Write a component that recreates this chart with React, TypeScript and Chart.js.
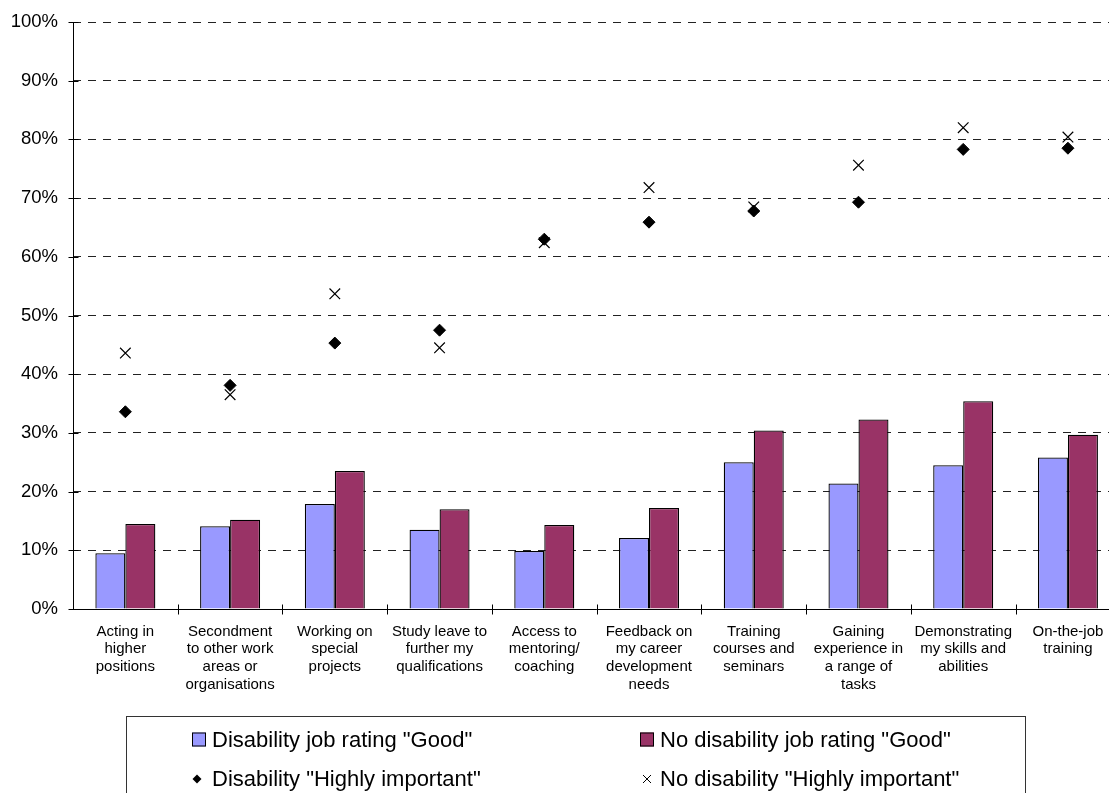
import { useEffect, useRef } from "react";
import { Chart, registerables } from "chart.js";

Chart.register(...registerables);

// Categories shown along the x axis (each entry is one multi-line label)
const categories: string[][] = [
  ["Acting in", "higher", "positions"],
  ["Secondment", "to other work", "areas or", "organisations"],
  ["Working on", "special", "projects"],
  ["Study leave to", "further my", "qualifications"],
  ["Access to", "mentoring/", "coaching"],
  ["Feedback on", "my career", "development", "needs"],
  ["Training", "courses and", "seminars"],
  ["Gaining", "experience in", "a range of", "tasks"],
  ["Demonstrating", "my skills and", "abilities"],
  ["On-the-job", "training"],
];

// Percentages of staff rating their job "Good" on each item
const disabilityGood = [9.5, 14.1, 17.9, 13.5, 9.9, 12.1, 25.0, 21.4, 24.5, 25.8];
const noDisabilityGood = [14.5, 15.2, 23.5, 17.0, 14.3, 17.2, 30.4, 32.3, 35.4, 29.7];

// Percentages rating each item "Highly important"
const disabilityImportant = [33.6, 38.1, 45.3, 47.5, 63.0, 65.9, 67.8, 69.3, 78.3, 78.5];
const noDisabilityImportant = [43.6, 36.5, 53.7, 44.5, 62.4, 71.8, 68.5, 75.6, 82.0, 80.4];

const seriesLabels = [
  'Disability job rating "Good"',
  'No disability job rating "Good"',
  'Disability "Highly important"',
  'No disability "Highly important"',
];

const FONT = '"Liberation Sans", Arial, sans-serif';
const BLUE = "#9999FF";
const PLUM = "#993366";
const CLEAR = "rgba(0,0,0,0)";

// Solid axis lines with tick marks that cross the axes
const axisPlugin = {
  id: "crossAxes",
  afterDatasetsDraw(chart: any) {
    const { ctx, chartArea } = chart;
    const x = chart.scales.x;
    const y = chart.scales.y;
    const left = Math.round(chartArea.left) + 0.5;
    const bottom = Math.round(chartArea.bottom) + 0.5;
    ctx.save();
    ctx.strokeStyle = "#000";
    ctx.lineWidth = 1;
    ctx.beginPath();
    ctx.moveTo(left, Math.round(chartArea.top));
    ctx.lineTo(left, bottom);
    ctx.lineTo(chartArea.right, bottom);
    for (const t of y.ticks) {
      const py = Math.round(y.getPixelForValue(t.value)) + 0.5;
      ctx.moveTo(left - 5, py);
      ctx.lineTo(left + 5, py);
    }
    const step = (x.right - x.left) / categories.length;
    for (let i = 1; i <= categories.length; i++) {
      const px = Math.round(x.left + i * step) + 0.5;
      ctx.moveTo(px, bottom - 5);
      ctx.lineTo(px, bottom + 5);
    }
    ctx.stroke();
    ctx.restore();
  },
};

// Boxed two-column legend below the axis labels
const legendPlugin = {
  id: "boxLegend",
  afterDraw(chart: any) {
    const { ctx } = chart;
    const ds = chart.data.datasets;
    ctx.save();
    ctx.strokeStyle = "#333";
    ctx.lineWidth = 1;
    ctx.strokeRect(126.5, 716.5, 899, 120);

    const cols = [192, 640];
    const rows = [746.5, 786];
    ctx.font = `22px ${FONT}`;
    ctx.fillStyle = "#000";
    ctx.textBaseline = "alphabetic";
    ctx.textAlign = "left";

    ds.forEach((d: any, i: number) => {
      const cx = cols[i % 2];
      const base = rows[Math.floor(i / 2)];
      const midY = base - 7;
      if (d.type === "bar") {
        ctx.fillStyle = d.backgroundColor;
        ctx.fillRect(cx, base - 14, 14, 14);
        ctx.strokeStyle = "#000";
        ctx.strokeRect(cx + 0.5, base - 13.5, 13, 13);
      } else if (d.pointStyle === "rectRot") {
        ctx.fillStyle = "#000";
        ctx.beginPath();
        ctx.moveTo(cx + 5, midY - 4.5);
        ctx.lineTo(cx + 9.5, midY);
        ctx.lineTo(cx + 5, midY + 4.5);
        ctx.lineTo(cx + 0.5, midY);
        ctx.closePath();
        ctx.fill();
      } else {
        ctx.strokeStyle = "#000";
        ctx.lineWidth = 1;
        ctx.beginPath();
        ctx.moveTo(cx + 3, midY - 4);
        ctx.lineTo(cx + 11, midY + 4);
        ctx.moveTo(cx + 11, midY - 4);
        ctx.lineTo(cx + 3, midY + 4);
        ctx.stroke();
      }
      ctx.fillStyle = "#000";
      ctx.fillText(d.label, cx + 20, base);
    });
    ctx.restore();
  },
};

export default function App() {
  const canvasRef = useRef<HTMLCanvasElement | null>(null);

  useEffect(() => {
    const canvas = canvasRef.current;
    if (!canvas) return;
    const chart = new Chart(canvas, {
      type: "bar",
      data: {
        labels: categories,
        datasets: [
          {
            type: "bar",
            label: seriesLabels[0],
            data: disabilityGood,
            backgroundColor: BLUE,
            borderColor: "#000",
            borderWidth: 1.3,
            barPercentage: 1,
            categoryPercentage: 0.573,
            order: 2,
          },
          {
            type: "bar",
            label: seriesLabels[1],
            data: noDisabilityGood,
            backgroundColor: PLUM,
            borderColor: "#000",
            borderWidth: 1.3,
            barPercentage: 1,
            categoryPercentage: 0.573,
            order: 2,
          },
          {
            type: "line",
            label: seriesLabels[2],
            data: disabilityImportant,
            showLine: false,
            pointStyle: "rectRot",
            pointRadius: 6,
            pointBackgroundColor: "#000",
            pointBorderColor: "#000",
            pointBorderWidth: 1,
            order: 1,
          },
          {
            type: "line",
            label: seriesLabels[3],
            data: noDisabilityImportant,
            showLine: false,
            pointStyle: "crossRot",
            pointRadius: 7.5,
            pointBackgroundColor: "#000",
            pointBorderColor: "#000",
            pointBorderWidth: 1.2,
            order: 0,
          },
        ] as any,
      },
      options: {
        animation: false,
        responsive: false,
        events: [],
        layout: { padding: { top: 22, right: 2, left: 0, bottom: 0 } },
        plugins: {
          legend: { display: false },
          tooltip: { enabled: false },
          title: { display: false },
        },
        scales: {
          x: {
            offset: true,
            grid: {
              display: true,
              drawOnChartArea: false,
              drawTicks: true,
              tickLength: 14,
              tickColor: CLEAR,
              color: CLEAR,
            },
            border: { display: false },
            ticks: {
              color: "#000",
              padding: 0,
              maxRotation: 0,
              autoSkip: false,
              font: { family: FONT, size: 15, lineHeight: 1.17 },
            },
            afterFit(scale: any) {
              scale.height = 184;
            },
          },
          y: {
            min: 0,
            max: 100,
            grid: {
              color: "#222",
              lineWidth: 1,
              drawTicks: true,
              tickLength: 15,
              tickColor: CLEAR,
            },
            border: { display: false, dash: [8, 7] },
            ticks: {
              stepSize: 10,
              color: "#000",
              padding: 0,
              font: { family: FONT, size: 18.5 },
              callback: (v: any) => `${v}%`,
            },
            afterFit(scale: any) {
              scale.width = 73;
            },
          },
        },
      },
      plugins: [axisPlugin, legendPlugin],
    });
    return () => chart.destroy();
  }, []);

  return (
    <div
      style={{
        position: "fixed",
        left: 0,
        top: 0,
        width: 1109,
        height: 793,
        overflow: "hidden",
        background: "#fff",
      }}
    >
      <canvas ref={canvasRef} width={1129} height={793} style={{ display: "block" }} />
    </div>
  );
}
